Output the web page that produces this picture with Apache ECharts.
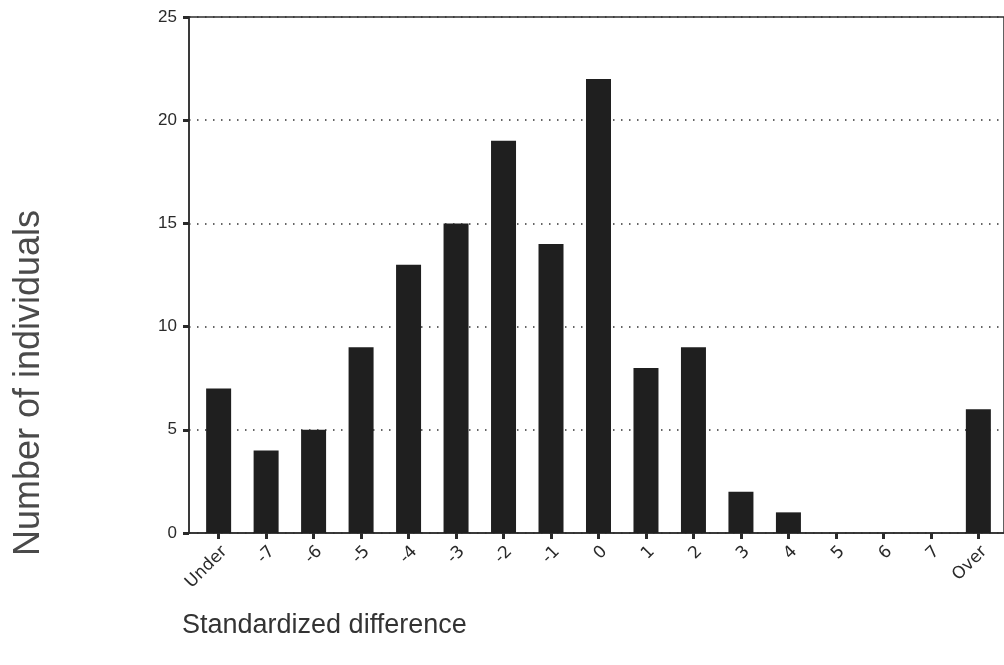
<!DOCTYPE html>
<html>
<head>
<meta charset="utf-8">
<title>Standardized difference histogram</title>
<script src="https://cdn.jsdelivr.net/npm/echarts@6/dist/echarts.min.js"></script>
<style>
  html, body { margin: 0; padding: 0; background: #fff; }
  #chart { width: 1004px; height: 665px; }
</style>
</head>
<body>
<div id="chart"></div>
<script>
// Histogram categories (standardized difference bins)
const categories = ['Under', '-7', '-6', '-5', '-4', '-3', '-2', '-1', '0', '1', '2', '3', '4', '5', '6', '7', 'Over'];
// Number of individuals in each bin
const counts = [7, 4, 5, 9, 13, 15, 19, 14, 22, 8, 9, 2, 1, 0, 0, 0, 6];
// Y-axis tick range
const yMin = 0, yMax = 25, yStep = 5;

const binIndex = categories.map((c, i) => i);

const chart = echarts.init(document.getElementById('chart'), null, { renderer: 'canvas' });

chart.setOption({
  backgroundColor: '#ffffff',
  animation: false,
  grid: {
    left: 189, top: 17, right: -2, bottom: 132,
    show: true, borderColor: '#2e2e2e', borderWidth: 1.5, backgroundColor: 'transparent'
  },
  xAxis: {
    type: 'value',
    min: -0.624,
    max: 16.54,
    axisLine: { show: true, onZero: false, lineStyle: { color: '#2e2e2e', width: 1.5 } },
    axisTick: {
      show: true, customValues: binIndex, length: 6,
      lineStyle: { color: '#2a2a2a', width: 3 }
    },
    axisLabel: {
      show: true, customValues: binIndex,
      formatter: v => categories[Math.round(v)],
      rotate: 45, margin: 10, verticalAlign: 'top',
      fontFamily: 'DejaVu Sans', fontSize: 17, color: '#2a2a2a'
    },
    splitLine: { show: false }
  },
  yAxis: {
    type: 'value',
    min: yMin, max: yMax, interval: yStep,
    axisLine: { show: true, onZero: false, lineStyle: { color: '#2e2e2e', width: 1.5 } },
    axisTick: { show: true, length: 6, lineStyle: { color: '#2a2a2a', width: 3 } },
    axisLabel: {
      margin: 12, fontFamily: 'Liberation Sans', fontSize: 17, color: '#2a2a2a'
    },
    splitLine: {
      show: true,
      lineStyle: { color: '#333', width: 1.5, type: [1.5, 6.5] }
    }
  },
  series: [{
    type: 'bar',
    data: counts.map((v, i) => [i, v]),
    barWidth: 25,
    itemStyle: { color: '#1f1f1f' }
  }],
  graphic: [
    {
      type: 'text',
      x: 29, y: 383, rotation: Math.PI / 2,
      style: {
        text: 'Number of individuals',
        font: '36px "Liberation Sans", Arial, sans-serif',
        fill: '#4a4a4a', align: 'center', verticalAlign: 'middle'
      }
    },
    {
      type: 'text',
      left: 182, top: 612,
      style: {
        text: 'Standardized difference',
        font: '27px "Liberation Sans", Arial, sans-serif',
        fill: '#333'
      }
    }
  ]
});
</script>
</body>
</html>
